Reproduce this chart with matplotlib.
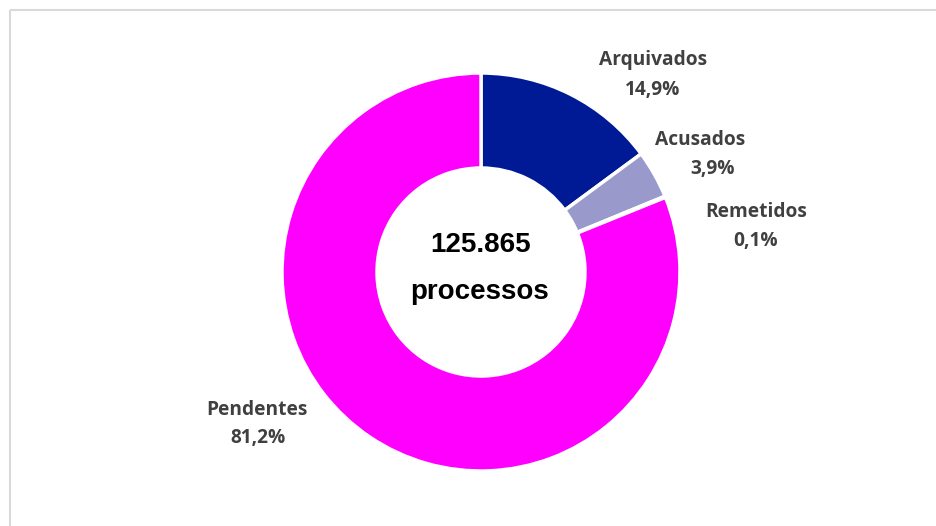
import matplotlib.pyplot as plt
from matplotlib.patches import Rectangle

categorias = ['Arquivados', 'Acusados', 'Remetidos', 'Pendentes']
percentuais = [14.9, 3.9, 0.1, 81.2]
rotulos = ['14,9%', '3,9%', '0,1%', '81,2%']
cores = ['#001A96', '#9999CC', '#7F7F7F', '#FF00FF']
total = '125.865'

fig = plt.figure(figsize=(9.37, 5.26), dpi=100)
ax = fig.add_axes([0, 0, 1, 1])

# moldura cinza clara (so esquerda e topo aparecem)
ax.add_patch(Rectangle((10, 10), 940, 530, fill=False, edgecolor='#D9D9D9', lw=1.5))

# eixo y invertido: startangle -90 e sentido anti-horario viram "topo, horario"
ax.pie(percentuais, colors=cores, startangle=-90, counterclock=True,
       center=(481, 272), radius=199,
       wedgeprops=dict(width=95, edgecolor='white', linewidth=2.5))
ax.set_xlim(0, 937)
ax.set_ylim(526, 0)
ax.set_aspect('equal')
ax.axis('off')

fonte_rot = dict(family=['Open Sans', 'DejaVu Sans'], fontweight='bold', fontsize=13.8,
                 color='#404040', ha='center', va='center')
posicoes = [(653, 60, 653, 90), (700, 140, 713, 169), (756, 212, 756, 241), (257, 410, 258, 438)]
for nome, rot, (x1, y1, x2, y2) in zip(categorias, rotulos, posicoes):
    ax.text(x1, y1, nome, **fonte_rot)
    ax.text(x2, y2, rot, **fonte_rot)

fonte_centro = dict(family=['Liberation Sans', 'DejaVu Sans'], fontweight='bold',
                    fontsize=20, color='black', ha='center', va='center')
ax.text(481, 245, total, **fonte_centro)
ax.text(480, 292, 'processos', **fonte_centro)

fig.savefig('out.png', dpi=100)
